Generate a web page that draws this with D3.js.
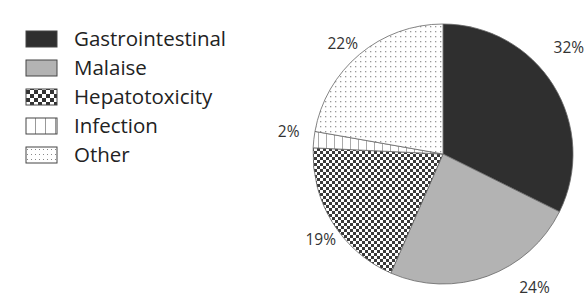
<!DOCTYPE html>
<html><head><meta charset="utf-8">
<script src="https://cdn.jsdelivr.net/npm/d3@7"></script>
<style>body{margin:0;background:#fff}svg{display:block}</style>
</head><body>
<svg id="chart" width="586" height="298"></svg>
<script>
const categories = ["Gastrointestinal", "Malaise", "Hepatotoxicity", "Infection", "Other"];
const values = [32, 24, 19, 2, 22];
const labels = ["32%", "24%", "19%", "2%", "22%"];

const svg = d3.select("#chart");
const cx = 443, cy = 154, R = 130;

const defs = svg.append("defs");
const pc = defs.append("pattern").attr("id","checker").attr("patternUnits","userSpaceOnUse")
  .attr("width",6).attr("height",6);
pc.append("rect").attr("width",6).attr("height",6).attr("fill","#fff");
pc.append("rect").attr("x",0).attr("y",0).attr("width",3).attr("height",3).attr("fill","#3a3a3a");
pc.append("rect").attr("x",3).attr("y",3).attr("width",3).attr("height",3).attr("fill","#3a3a3a");
const pv = defs.append("pattern").attr("id","vlines").attr("patternUnits","userSpaceOnUse")
  .attr("width",8).attr("height",8);
pv.append("rect").attr("width",8).attr("height",8).attr("fill","#fff");
pv.append("rect").attr("x",3).attr("y",0).attr("width",1).attr("height",8).attr("fill","#aaa");
const pd = defs.append("pattern").attr("id","dots").attr("patternUnits","userSpaceOnUse")
  .attr("width",5).attr("height",5);
pd.append("rect").attr("width",5).attr("height",5).attr("fill","#fff");
pd.append("rect").attr("x",2).attr("y",2).attr("width",1.3).attr("height",1.3).attr("fill","#999");
const lv = defs.append("pattern").attr("id","vlinesL").attr("patternUnits","userSpaceOnUse")
  .attr("x",25).attr("width",10).attr("height",8);
lv.append("rect").attr("width",10).attr("height",8).attr("fill","#fff");
lv.append("rect").attr("x",0).attr("y",0).attr("width",1).attr("height",8).attr("fill","#999");
const lc = defs.append("pattern").attr("id","checkerL").attr("patternUnits","userSpaceOnUse")
  .attr("x",26).attr("y",90).attr("width",8).attr("height",8);
lc.append("rect").attr("width",8).attr("height",8).attr("fill","#fff");
lc.append("rect").attr("width",4).attr("height",4).attr("fill","#333");
lc.append("rect").attr("x",4).attr("y",4).attr("width",4).attr("height",4).attr("fill","#333");
const ld = defs.append("pattern").attr("id","dotsL").attr("patternUnits","userSpaceOnUse")
  .attr("x",26).attr("y",147).attr("width",4).attr("height",5);
ld.append("rect").attr("width",4).attr("height",5).attr("fill","#fff");
ld.append("rect").attr("x",1).attr("y",2).attr("width",1).attr("height",1).attr("fill","#888");

const fills = d3.scaleOrdinal().domain(categories)
  .range(["#2f2f2f", "#b3b3b3", "url(#checker)", "url(#vlines)", "url(#dots)"]);
const legendFills = d3.scaleOrdinal().domain(categories)
  .range(["#2f2f2f", "#b3b3b3", "url(#checkerL)", "url(#vlinesL)", "url(#dotsL)"]);

const pie = d3.pie().sort(null).value(d => d.v);
const data = categories.map((c,i) => ({c, v: values[i], l: labels[i]}));
const arcs = pie(data);
const arc = d3.arc().innerRadius(0).outerRadius(R);

const g = svg.append("g").attr("transform", `translate(${cx},${cy})`);
g.selectAll("path").data(arcs).join("path")
  .attr("d", arc)
  .attr("fill", d => fills(d.data.c))
  .attr("stroke", "#666").attr("stroke-width", 0.8);

const labFs = 15.5;
const nudge = [-8.5, -14.4, -3, 2, -2.3];
const lr = [165, 162, 149, 156, 149];
g.selectAll("text.lab").data(arcs).join("text").attr("class","lab")
  .attr("x", (d,i) => { const a = (d.startAngle + d.endAngle)/2 + nudge[i]*Math.PI/180; return Math.sin(a)*lr[i]; })
  .attr("y", (d,i) => { const a = (d.startAngle + d.endAngle)/2 + nudge[i]*Math.PI/180; return -Math.cos(a)*lr[i] + labFs*0.357; })
  .attr("text-anchor","middle")
  .attr("font-family","'Open Sans', sans-serif").attr("font-size",labFs).attr("fill","#333")
  .text(d => d.data.l);

const legFs = 20.5;
const ly = d3.scalePoint().domain(categories).range([39, 155]);
const lg = svg.append("g");
lg.selectAll("rect").data(categories).join("rect")
  .attr("x", 26).attr("y", d => ly(d) - 8).attr("width", 31).attr("height", 16)
  .attr("fill", d => legendFills(d)).attr("stroke","#444").attr("stroke-width",1);
lg.selectAll("text").data(categories).join("text")
  .attr("x", 74).attr("y", d => ly(d) + legFs*0.357)
  .attr("font-family","'Open Sans', sans-serif").attr("font-size",legFs).attr("fill","#222")
  .text(d => d);
</script>
</body></html>
